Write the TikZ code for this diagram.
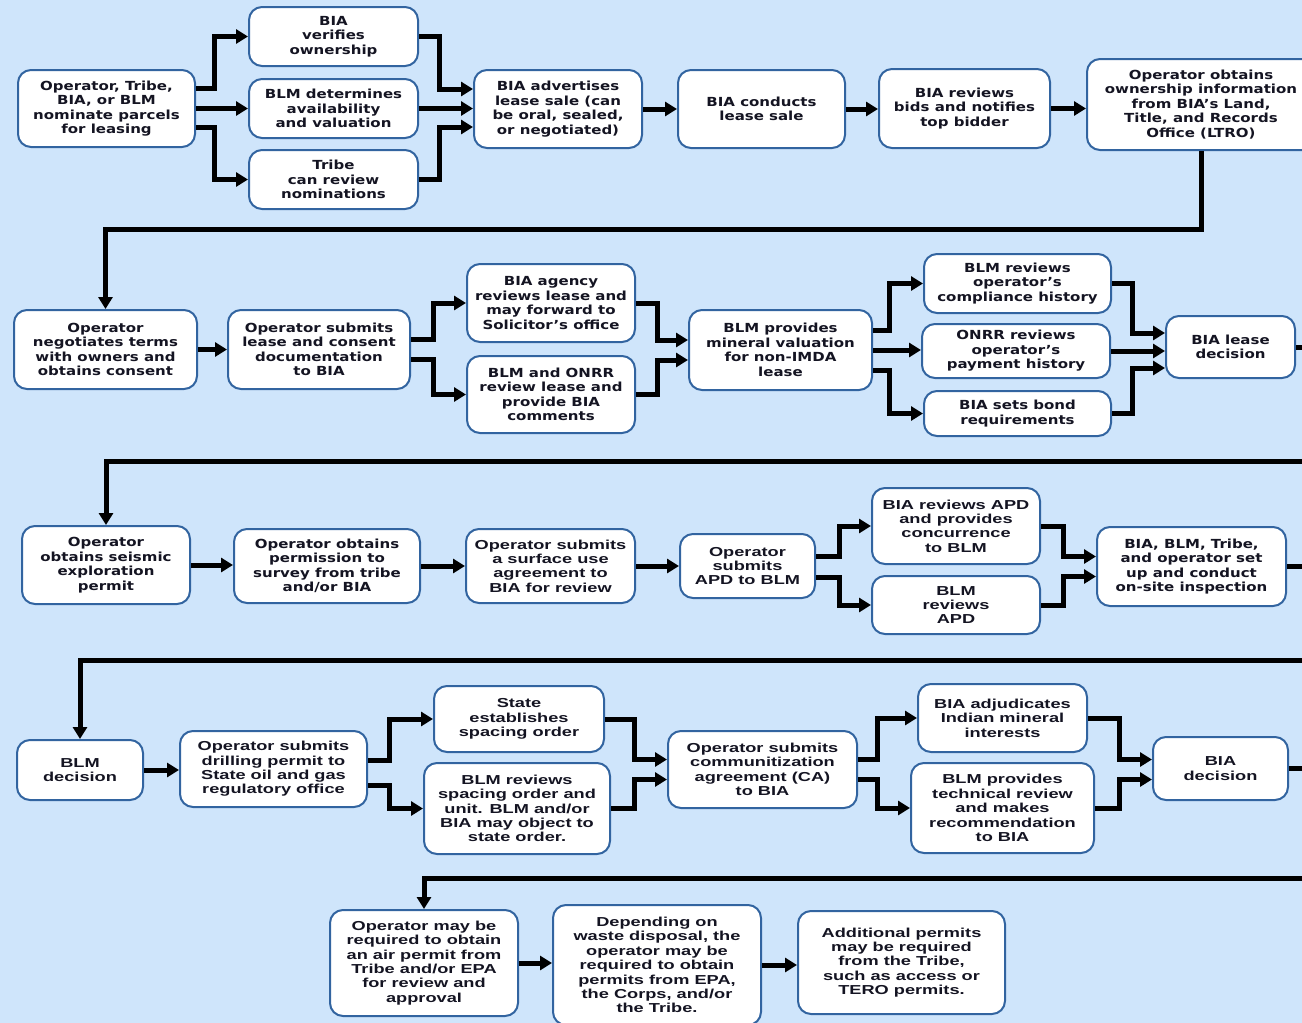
\documentclass[tikz,border=0pt]{standalone}
\usepackage{fontspec}
\usetikzlibrary{arrows.meta,calc}
\newfontfamily\vf[FakeStretch=1.2]{DejaVu Sans}
\newfontfamily\af[FakeStretch=1.4]{Liberation Sans}
\definecolor{bgcol}{RGB}{207,229,251}
\definecolor{bordercol}{RGB}{50,100,160}
\definecolor{txtcol}{RGB}{20,20,34}
\tikzset{
  box/.style={draw=bordercol, line width=2pt, fill=white, rounded corners=13pt,
    align=center, inner sep=0pt, text=txtcol},
  vbox/.style={box, font=\vf\bfseries\fontsize{12.5}{14.5}\selectfont},
  abox/.style={box, font=\af\bfseries\fontsize{13}{14.4}\selectfont},
  sz/.style 2 args={minimum width=#1pt, minimum height=#2pt},
  arr/.style={line width=5pt, -{Triangle[length=12pt,width=14pt]}},
  ln/.style={line width=5pt}
}
\begin{document}
\begin{tikzpicture}[x=1pt,y=-1pt]
\useasboundingbox (0,0) rectangle (1302,1023);
\clip (0,0) rectangle (1302,1023);
\fill[bgcol] (0,0) rectangle (1302,1023);

% Row 1
\node[vbox, sz={177}{77}] (A1) at (106.5,108.5) {Operator, Tribe,\\BIA, or BLM\\nominate parcels\\for leasing};
\node[vbox, sz={169}{59}] (A2) at (333.5,36.5) {BIA\\verifies\\ownership};
\node[vbox, sz={169}{59}] (A3) at (333.5,108.5) {BLM determines\\availability\\and valuation};
\node[vbox, sz={169}{59}] (A4) at (333.5,179.5) {Tribe\\can review\\nominations};
\node[vbox, sz={168}{78}] (A5) at (558,109) {BIA advertises\\lease sale (can\\be oral, sealed,\\or negotiated)};
\node[vbox, sz={167}{78}] (A6) at (761.5,109) {BIA conducts\\lease sale};
\node[vbox, sz={171}{79}] (A7) at (964.5,108.5) {BIA reviews\\bids and notifies\\top bidder};
\node[vbox, sz={228}{91}] (A8) at (1201,104.5) {Operator obtains\\ownership information\\from BIA’s Land,\\Title, and Records\\Office (LTRO)};

% Row 2
\node[vbox, sz={183}{79}] (B1) at (105.5,349.5) {Operator\\negotiates terms\\with owners and\\obtains consent};
\node[vbox, sz={182}{79}] (B2) at (319,349.5) {Operator submits\\lease and consent\\documentation\\to BIA};
\node[vbox, sz={168}{78}] (B3) at (551,303) {BIA agency\\reviews lease and\\may forward to\\Solicitor’s office};
\node[vbox, sz={168}{77}] (B4) at (551,394.5) {BLM and ONRR\\review lease and\\provide BIA\\comments};
\node[vbox, sz={183}{80}] (B5) at (780.5,350) {BLM provides\\mineral valuation\\for non-IMDA\\lease};
\node[vbox, sz={187}{59}] (B6) at (1017.5,283.5) {BLM reviews\\operator’s\\compliance history};
\node[vbox, sz={188}{54}] (B7) at (1016,351) {ONRR reviews\\operator’s\\payment history};
\node[vbox, sz={187}{45}] (B8) at (1017.5,413.5) {BIA sets bond\\requirements};
\node[vbox, sz={129}{62}] (B9) at (1230.5,347) {BIA lease\\decision};

% Row 3
\node[vbox, sz={168}{78}] (C1) at (106,565) {Operator\\obtains seismic\\exploration\\permit};
\node[vbox, sz={186}{74}] (C2) at (327,566) {Operator obtains\\permission to\\survey from tribe\\and/or BIA};
\node[abox, sz={169}{74}] (C3) at (550.5,566) {Operator submits\\a surface use\\agreement to\\BIA for review};
\node[abox, sz={135}{64}] (C4) at (747.5,566) {Operator\\submits\\APD to BLM};
\node[abox, sz={168}{76}] (C5) at (956,526) {BIA reviews APD\\and provides\\concurrence\\to BLM};
\node[abox, sz={168}{58}] (C6) at (956,605) {BLM\\reviews\\APD};
\node[vbox, sz={189}{79}] (C7) at (1191.5,566.5) {BIA, BLM, Tribe,\\and operator set\\up and conduct\\on-site inspection};

% Row 4
\node[abox, sz={126}{60}] (D1) at (80,770) {BLM\\decision};
\node[abox, sz={187}{76}] (D2) at (273.5,769) {Operator submits\\drilling permit to\\State oil and gas\\regulatory office};
\node[abox, sz={170}{66}] (D3) at (519,719) {State\\establishes\\spacing order};
\node[abox, sz={186}{91}] (D4) at (517,808.5) {BLM reviews\\spacing order and\\unit. BLM and/or\\BIA may object to\\state order.};
\node[abox, sz={189}{77}] (D5) at (762.5,769.5) {Operator submits\\communitization\\agreement (CA)\\to BIA};
\node[abox, sz={169}{68}] (D6) at (1002.5,718) {BIA adjudicates\\Indian mineral\\interests};
\node[abox, sz={183}{90}] (D7) at (1002.5,808) {BLM provides\\technical review\\and makes\\recommendation\\to BIA};
\node[abox, sz={135}{63}] (D8) at (1220.5,768.5) {BIA\\decision};

% Row 5
\node[abox, sz={188}{106}] (E1) at (424,963) {Operator may be\\required to obtain\\an air permit from\\Tribe and/or EPA\\for review and\\approval};
\node[abox, sz={208}{120}] (E2) at (657,965) {Depending on\\waste disposal, the\\operator may be\\required to obtain\\permits from EPA,\\the Corps, and/or\\the Tribe.};
\node[abox, sz={207}{103}] (E3) at (901.5,962.5) {Additional permits\\may be required\\from the Tribe,\\such as access or\\TERO permits.};

\coordinate (r2) at (1330,461);
\coordinate (r3) at (1330,660);
\coordinate (r4) at (1330,878);

% Row 1 connectors
\draw[arr] ([yshift=20pt]A1.east) -- ++(18,0) |- (A2.west);
\draw[arr] (A1.east) -- (A1.east -| A3.west);
\draw[arr] ([yshift=-19pt]A1.east) -- ++(18,0) |- (A4.west);
\draw[arr] (A2.east) -- ++(20,0) |- ([yshift=20pt]A5.west);
\draw[arr] (A3.east) -- (A3.east -| A5.west);
\draw[arr] (A4.east) -- ++(20,0) |- ([yshift=-18pt]A5.west);
\draw[arr] (A5.east) -- (A5.east -| A6.west);
\draw[arr] (A6.east) -- (A6.east -| A7.west);
\draw[arr] (A7.east) -- (A7.east -| A8.west);
\draw[arr] (A8.south) |- ($(B1.north)+(0,-80)$) -- (B1.north);

% Row 2 connectors
\draw[arr] (B1.east) -- (B1.east -| B2.west);
\draw[arr] ([yshift=10pt]B2.east) -- ++(22,0) |- (B3.west);
\draw[arr] ([yshift=-10pt]B2.east) -- ++(22,0) |- (B4.west);
\draw[arr] (B3.east) -- ++(21,0) |- ([yshift=10pt]B5.west);
\draw[arr] (B4.east) -- ++(21,0) |- ([yshift=-10pt]B5.west);
\draw[arr] ([yshift=20pt]B5.east) -- ++(16,0) |- (B6.west);
\draw[arr] (B5.east) -- (B5.east -| B7.west);
\draw[arr] ([yshift=-20pt]B5.east) -- ++(16,0) |- (B8.west);
\draw[arr] (B6.east) -- ++(20,0) |- ([yshift=14pt]B9.west);
\draw[arr] (B7.east) -- (B7.east -| B9.west);
\draw[arr] (B8.east) -- ++(20,0) |- ([yshift=-21pt]B9.west);
\draw[arr] (B9.east) -| (r2) -| (C1.north);

% Row 3 connectors
\draw[arr] (C1.east) -- (C1.east -| C2.west);
\draw[arr] (C2.east) -- (C2.east -| C3.west);
\draw[arr] (C3.east) -- (C3.east -| C4.west);
\draw[arr] ([yshift=10pt]C4.east) -- ++(23,0) |- (C5.west);
\draw[arr] ([yshift=-11pt]C4.east) -- ++(23,0) |- (C6.west);
\draw[arr] (C5.east) -- ++(22,0) |- ([yshift=10pt]C7.west);
\draw[arr] (C6.east) -- ++(22,0) |- ([yshift=-10pt]C7.west);
\draw[arr] (C7.east) -| (r3) -| (D1.north);

% Row 4 connectors
\draw[arr] (D1.east) -- (D1.east -| D2.west);
\draw[arr] ([yshift=9pt]D2.east) -- ++(21,0) |- (D3.west);
\draw[arr] ([yshift=-16pt]D2.east) -- ++(21,0) |- (D4.west);
\draw[arr] (D3.east) -- ++(29,0) |- ([yshift=10pt]D5.west);
\draw[arr] (D4.east) -- ++(23,0) |- ([yshift=-10pt]D5.west);
\draw[arr] ([yshift=10pt]D5.east) -- ++(19,0) |- (D6.west);
\draw[arr] ([yshift=-10pt]D5.east) -- ++(19,0) |- (D7.west);
\draw[arr] (D6.east) -- ++(31,0) |- ([yshift=9pt]D8.west);
\draw[arr] (D7.east) -- ++(24,0) |- ([yshift=-11pt]D8.west);
\draw[arr] (D8.east) -| (r4) -| (E1.north);

% Row 5 connectors
\draw[arr] (E1.east) -- (E1.east -| E2.west);
\draw[arr] (E2.east) -- (E2.east -| E3.west);
\end{tikzpicture}
\end{document}
